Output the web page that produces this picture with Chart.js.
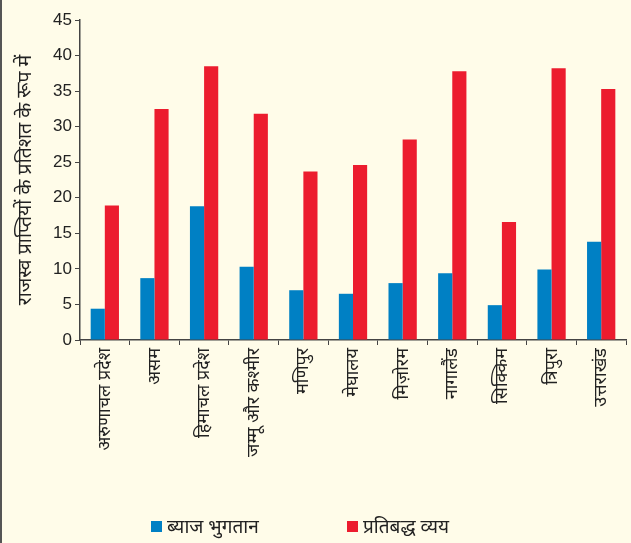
<!DOCTYPE html>
<html>
<head>
<meta charset="utf-8">
<script src="https://cdn.jsdelivr.net/npm/chart.js@4/dist/chart.umd.min.js"></script>
<style>
  html, body { margin: 0; padding: 0; background: #fffce9; }
  #wrap { position: relative; width: 631px; height: 543px; border-left: 2px solid #555; box-sizing: border-box; overflow: hidden; }
  canvas { display: block; }
  .leg { position: absolute; top: 514px; height: 24px; display: flex; align-items: center; font-family: 'Noto Sans', 'Liberation Sans', sans-serif; font-size: 19px; color: #222; white-space: nowrap; }
  .leg span.box { display: inline-block; width: 11px; height: 11px; margin-right: 5px; }
</style>
</head>
<body>
<div id="wrap">
  <canvas id="c" width="629" height="543"></canvas>
  <div class="leg" id="leg0" style="left:149px"><span class="box"></span><span class="txt"></span></div>
  <div class="leg" id="leg1" style="left:345px"><span class="box"></span><span class="txt"></span></div>
</div>
<script>
const categories = ["अरुणाचल प्रदेश", "असम", "हिमाचल प्रदेश", "जम्मू और कश्मीर", "मणिपुर", "मेघालय", "मिज़ोरम", "नागालैंड", "सिक्किम", "त्रिपुरा", "उत्तराखंड"];
const interestPayments = [4.4, 8.7, 18.8, 10.3, 7.0, 6.5, 8.0, 9.4, 4.9, 9.9, 13.8];
const committedExpenditure = [18.9, 32.5, 38.5, 31.8, 23.7, 24.6, 28.2, 37.8, 16.6, 38.2, 35.3];
const seriesNames = ["ब्याज भुगतान", "प्रतिबद्ध व्यय"];
const seriesColors = ["#0080c4", "#ec1c2e"];
const yTitle = "राजस्व प्राप्तियों के प्रतिशत के रूप में";

const FONT = "'Liberation Sans', Arial, sans-serif";
const HFONT = "'Noto Sans', 'Liberation Sans', sans-serif";
const AXIS = "#444";

const chart = new Chart(document.getElementById('c'), {
  type: 'bar',
  data: {
    labels: categories,
    datasets: [
      { label: seriesNames[0], data: interestPayments, backgroundColor: seriesColors[0], borderWidth: 0 },
      { label: seriesNames[1], data: committedExpenditure, backgroundColor: seriesColors[1], borderWidth: 0 }
    ]
  },
  options: {
    responsive: false,
    animation: false,
    layout: { padding: { top: 20, right: 5, left: 0, bottom: 0 } },
    datasets: { bar: { categoryPercentage: 0.57, barPercentage: 1.0 } },
    plugins: {
      legend: { display: false },
      tooltip: { enabled: false }
    },
    scales: {
      x: {
        grid: { display: true, drawOnChartArea: false, offset: true, color: AXIS, tickLength: 5, tickColor: AXIS },
        border: { display: true, color: AXIS, width: 1.5 },
        ticks: {
          font: { family: HFONT, size: 18 },
          color: '#222',
          minRotation: 90, maxRotation: 90,
          autoSkip: false
        },
        afterFit: s => { s.height = 203; }
      },
      y: {
        min: 0, max: 45,
        ticks: { stepSize: 5, font: { family: FONT, size: 17 }, color: '#222', padding: 3 },
        grid: { display: true, drawOnChartArea: false, color: AXIS, tickLength: 5, tickColor: AXIS },
        border: { display: true, color: AXIS, width: 1.5 },
        title: { display: true, text: yTitle, font: { family: HFONT, size: 19.5 }, color: '#222', padding: { top: 12, bottom: 8 } },
        afterFit: s => { s.width = 78; }
      }
    }
  }
});

chart.data.datasets.forEach((ds, i) => {
  const el = document.getElementById('leg' + i);
  el.querySelector('.box').style.background = ds.backgroundColor;
  el.querySelector('.txt').textContent = ds.label;
});
</script>
</body>
</html>
